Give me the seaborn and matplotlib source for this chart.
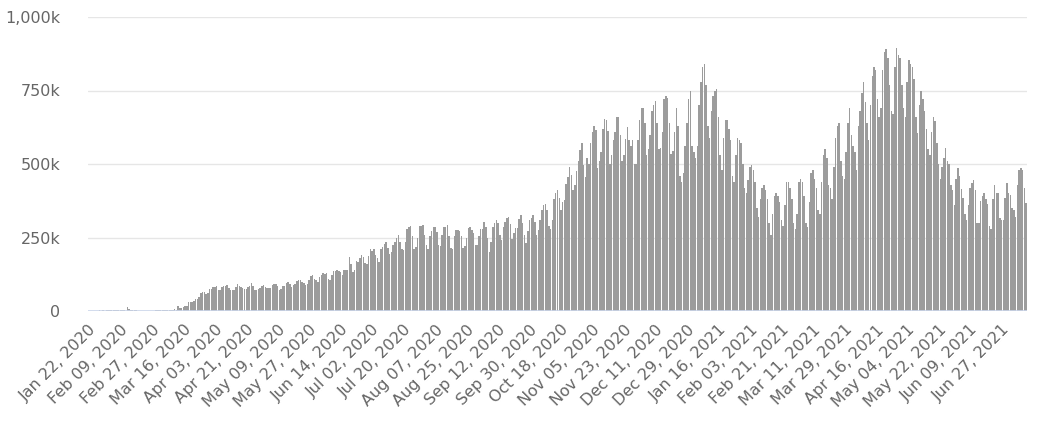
import matplotlib
matplotlib.use("Agg")
import matplotlib.pyplot as plt
import seaborn as sns
import pandas as pd
from matplotlib.ticker import FuncFormatter, FixedLocator

# ---- data (daily new cases, thousands), starting Wed Jan 22, 2020 ----
start_date = "2020-01-22"
daily_cases_k = [
    0.6, 0.1, 0.3, 0.5, 0.7,
    0.8, 2.7, 0.6, 2.1, 1.7, 2.1, 4.7,
    3.1, 4.0, 3.7, 3.2, 3.4, 2.6, 2.8,
    2.5, 2.0, 0.4, 15.2, 6.5, 2.1, 2.1,
    1.9, 1.8, 0.5, 0.6, 1.0, 1.0, 0.3,
    0.7, 0.9, 1.0, 1.2, 1.4, 1.8, 1.9,
    1.8, 2.3, 2.3, 2.7, 4.0, 3.8, 4.0,
    3.8, 4.6, 7.2, 2.7, 16.0, 10.8, 11.0,
    14, 16, 18, 29, 32, 31, 33,
    41, 40, 49, 62, 63, 65, 58,
    61, 75, 76, 80, 80, 84, 73,
    70, 80, 84, 85, 89, 78, 73,
    70, 72, 82, 92, 86, 81, 78,
    74, 75, 80, 84, 95, 85, 72,
    71, 74, 77, 84, 88, 80, 77,
    79, 79, 89, 92, 91, 85, 72,
    74, 85, 84, 94, 97, 92, 82,
    89, 92, 103, 106, 107, 99, 94,
    89, 93, 104, 118, 121, 110, 107,
    97, 114, 121, 128, 127, 129, 109,
    107, 121, 136, 136, 139, 135, 131,
    124, 141, 141, 140, 182, 159, 131,
    140, 169, 168, 179, 189, 182, 162,
    160, 186, 210, 203, 212, 190, 180,
    168, 211, 216, 228, 235, 214, 194,
    201, 225, 236, 249, 257, 235, 211,
    206, 236, 278, 285, 289, 254, 210,
    219, 247, 290, 290, 292, 260, 225,
    210, 255, 273, 285, 287, 270, 226,
    220, 260, 285, 285, 294, 256, 213,
    210, 254, 276, 276, 271, 256, 213,
    220, 247, 283, 285, 274, 267, 226,
    226, 256, 280, 280, 303, 285, 250,
    200, 235, 286, 300, 310, 300, 259,
    243, 286, 304, 318, 320, 296, 244,
    266, 282, 282, 313, 326, 300, 258,
    232, 272, 310, 316, 326, 303, 260,
    277, 310, 344, 360, 365, 344, 289,
    280, 309, 380, 400, 413, 384, 343,
    371, 378, 432, 455, 490, 463, 413,
    427, 476, 510, 548, 572, 496, 456,
    520, 500, 570, 610, 630, 617, 485,
    510, 540, 620, 654, 650, 612, 500,
    530, 580, 610, 660, 660, 600, 510,
    530, 585, 625, 580, 560, 580, 500,
    500, 580, 650, 690, 690, 640, 530,
    550, 600, 680, 700, 715, 640, 550,
    555, 610, 720, 730, 725, 640, 535,
    545, 610, 690, 630, 460, 440, 470,
    560, 640, 720, 750, 560, 540, 520,
    560, 700, 780, 830, 840, 770, 630,
    590, 680, 730, 750, 755, 660, 530,
    480, 590, 650, 650, 620, 580, 460,
    440, 530, 590, 580, 570, 500, 420,
    400, 445, 490, 495, 480, 440, 350,
    320, 380, 420, 430, 410, 380, 300,
    260, 330, 390, 400, 390, 370, 310,
    290, 360, 440, 440, 420, 380, 300,
    280, 330, 440, 450, 440, 390, 300,
    285, 370, 470, 480, 450, 420, 345,
    330, 440, 530, 550, 520, 430, 420,
    380, 490, 590, 630, 640, 510, 460,
    450, 540, 640, 690, 600, 560, 540,
    480, 630, 680, 740, 780, 710, 640,
    580, 700, 800, 830, 820, 720, 660,
    690, 820, 880, 890, 860, 770, 680,
    670, 830, 895, 870, 860, 770, 690,
    660, 780, 855, 840, 830, 790, 660,
    605, 700, 750, 720, 680, 620, 550,
    530, 610, 660, 645, 570, 500, 450,
    490, 520, 555, 510, 500, 430, 410,
    360, 450, 485, 460, 415, 385, 330,
    310, 360, 420, 435, 445, 410, 300,
    300, 375, 390, 400, 380, 365, 290,
    278, 380, 430, 400, 400, 315, 310,
    310, 385, 435, 400, 395, 350, 345,
    320, 430, 480, 486, 480, 420, 367,
]

tick_labels = [
    "Jan 22, 2020", "Feb 09, 2020", "Feb 27, 2020", "Mar 16, 2020", "Apr 03, 2020",
    "Apr 21, 2020", "May 09, 2020", "May 27, 2020", "Jun 14, 2020", "Jul 02, 2020",
    "Jul 20, 2020", "Aug 07, 2020", "Aug 25, 2020", "Sep 12, 2020", "Sep 30, 2020",
    "Oct 18, 2020", "Nov 05, 2020", "Nov 23, 2020", "Dec 11, 2020", "Dec 29, 2020",
    "Jan 16, 2021", "Feb 03, 2021", "Feb 21, 2021", "Mar 11, 2021", "Mar 29, 2021",
    "Apr 16, 2021", "May 04, 2021", "May 22, 2021", "Jun 09, 2021", "Jun 27, 2021",
]
tick_step = 18
y_ticks = [0, 250000, 500000, 750000, 1000000]

# ---- build frame ----
dates = pd.date_range(start_date, periods=len(daily_cases_k), freq="D")
df = pd.DataFrame({"date": dates.strftime("%Y-%m-%d"),
                   "cases": [v * 1000 for v in daily_cases_k]})

sns.set_theme(style="white")
plt.rcParams["font.family"] = ["DejaVu Sans"]

fig = plt.figure(figsize=(10.52, 4.38), dpi=100)
ax = fig.add_axes([88 / 1052, 1 - 311 / 438, (1027 - 88) / 1052, (311 - 17) / 438])

sns.barplot(data=df, x="date", y="cases", color="#9c9c9c", width=0.85,
            errorbar=None, linewidth=0, saturation=1, ax=ax)

ax.set_xlim(-0.5, len(df) - 0.5)
ax.set_ylim(0, 1000000)
ax.yaxis.set_major_locator(FixedLocator(y_ticks))
ax.yaxis.set_major_formatter(
    FuncFormatter(lambda v, p: "0" if v == 0 else f"{int(round(v / 1000)):,}k"))
ax.grid(axis="y", color="#e6e6e6", linewidth=1)
ax.set_axisbelow(True)
ax.axhline(0, color="#ccd6eb", linewidth=1.2, zorder=5)

pos = list(range(0, tick_step * len(tick_labels), tick_step))
ax.set_xticks(pos)
ax.set_xticklabels(tick_labels, rotation=45, ha="right", rotation_mode="anchor")

ax.tick_params(axis="y", length=0, pad=20, labelsize=11.5, labelcolor="#666666")
ax.tick_params(axis="x", length=0, pad=8, labelsize=11.5, labelcolor="#666666")
ax.set_xlabel("")
ax.set_ylabel("")
for s in ax.spines.values():
    s.set_visible(False)

fig.savefig("out.png", dpi=100, facecolor="white")
